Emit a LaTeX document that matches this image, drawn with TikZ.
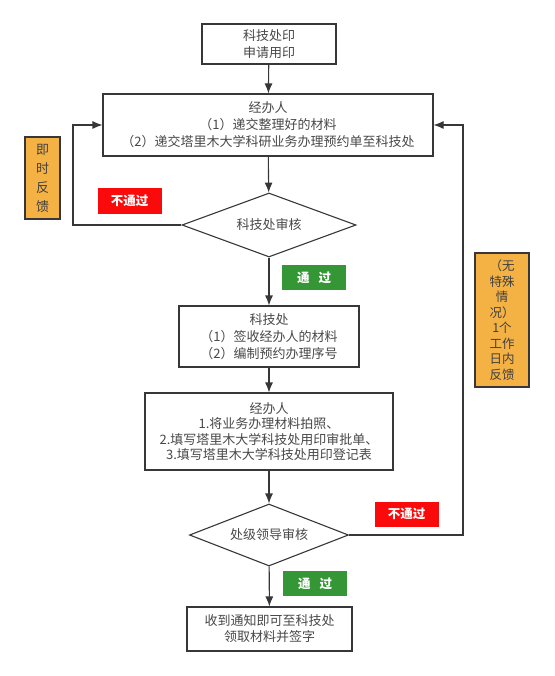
\documentclass[tikz,border=0pt]{standalone}
\usepackage{fontspec}
\setmainfont{Noto Sans CJK SC}
\usetikzlibrary{shapes.geometric,arrows.meta}
\definecolor{txtgray}{RGB}{72,72,72}
\definecolor{linegray}{RGB}{55,55,55}
\definecolor{tagred}{RGB}{250,10,10}
\definecolor{taggreen}{RGB}{52,150,52}
\definecolor{noteorange}{RGB}{244,178,68}

\begin{document}
\begin{tikzpicture}[x=1pt, y=-1pt, every node/.style={font=\fontsize{13}{17}\selectfont, text=txtgray, align=center, inner sep=1pt},
	proc/.style={draw=linegray, line width=1.1pt, fill=white},
	check/.style={diamond, draw=linegray, line width=1.1pt, fill=white, aspect=2.6},
	tag/.style={fill=#1, text=white, font=\fontsize{12.5}{15}\selectfont\bfseries, minimum width=64pt, minimum height=25pt},
	note/.style={draw=linegray, line width=1.1pt, fill=noteorange, text=black!75},
	flow/.style={draw=linegray, line width=1.1pt, -{Latex[length=10pt,width=8pt]}}]
	\useasboundingbox (0,0) rectangle (554,676);
	\node[proc, minimum width=134pt, minimum height=40pt] (seal) at (269,44) {科技处印\\申请用印};
	\node[proc, minimum width=330pt, minimum height=62pt] (agent) at (268,125) {经办人\\（1）递交整理好的材料\\（2）递交塔里木大学科研业务办理预约单至科技处};
	\node[check, minimum width=174pt, minimum height=64pt] (review) at (269,225) {科技处审核};
	\node[proc, minimum width=180pt, minimum height=61pt] (office) at (269,336.5) {科技处\\（1）签收经办人的材料\\（2）编制预约办理序号};
	\node[proc, minimum width=248pt, minimum height=77pt, font=\fontsize{13}{15.5}\selectfont] (fill) at (269,431.5) {经办人\\1.将业务办理材料拍照、\\2.填写塔里木大学科技处用印审批单、\\3.填写塔里木大学科技处用印登记表};
	\node[check, minimum width=159pt, minimum height=62pt] (leader) at (269,535) {处级领导审核};
	\node[proc, minimum width=165pt, minimum height=44pt, font=\fontsize{13}{16}\selectfont] (collect) at (269.5,629) {收到通知即可至科技处\\领取材料并签字};

	\node[tag=tagred] (failA) at (129.5,201) {不通过};
	\node[tag=taggreen] (passA) at (314,277.5) {通\hspace{9pt}过};
	\node[tag=tagred] (failB) at (406.5,514) {不通过};
	\node[tag=taggreen] (passB) at (315,583.5) {通\hspace{9pt}过};
	\node[note, minimum width=35pt, minimum height=82pt, font=\fontsize{13}{19}\selectfont] (quick) at (42.5,178) {即\\时\\反\\馈};
	\node[note, minimum width=54pt, minimum height=134pt, font=\fontsize{12.5}{15.5}\selectfont] (later) at (502,320) {（无\\特殊\\情\\况）\\1个\\工作\\日内\\反馈};

	\coordinate (backL) at (73,225);
	\coordinate (backR) at (463,535);
	\draw[flow] (seal) -- (agent);
	\draw[flow] (agent) -- (review);
	\draw[flow] (review) -- (office);
	\draw[flow] (office) -- (fill);
	\draw[flow] (fill) -- (leader);
	\draw[flow] (leader) -- (collect);
	\draw[flow] (review.west) -- (backL) |- (agent.west);
	\draw[flow] (leader.east) -- (backR) |- (agent.east);
\end{tikzpicture}
\end{document}
